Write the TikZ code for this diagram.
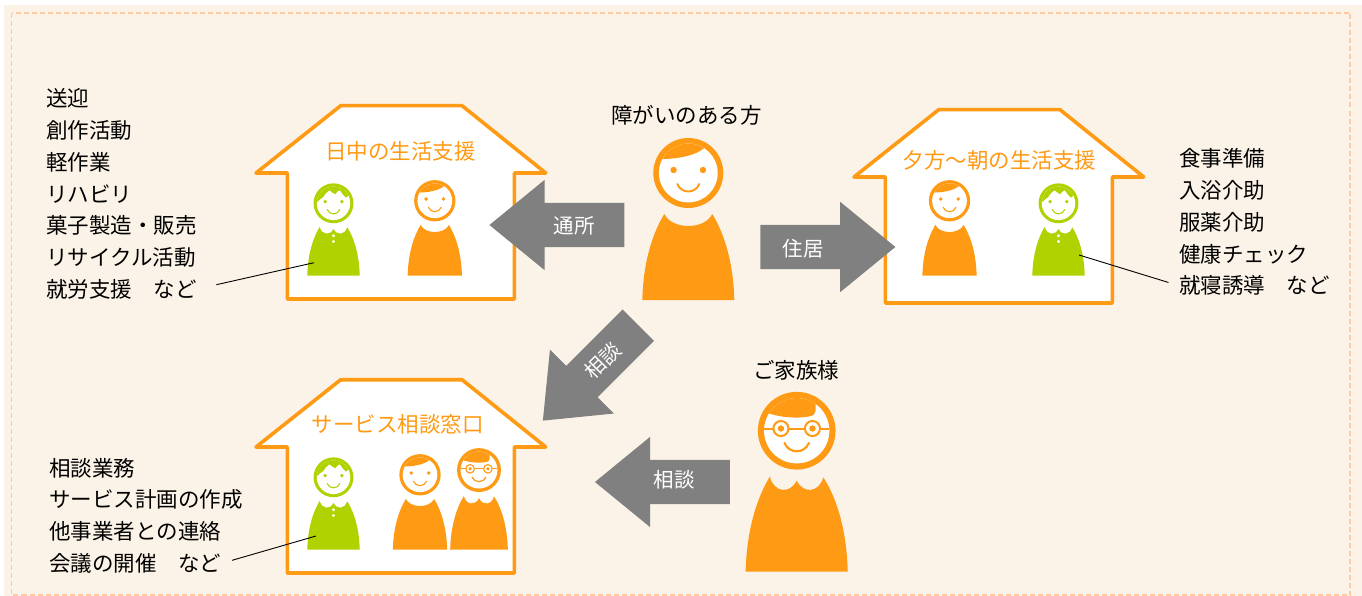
\documentclass[tikz,border=0pt]{standalone}
\usepackage{fontspec}
\setmainfont{Noto Sans CJK JP}
\usepackage{xcolor}
\usetikzlibrary{shapes.arrows}

\definecolor{paper}{HTML}{FBF3E7}
\definecolor{edging}{HTML}{FFC9A3}
\definecolor{carrot}{HTML}{FF9A14}
\definecolor{leaf}{HTML}{B0D200}
\definecolor{flow}{HTML}{808080}

% hair and collar of each kind of person
\newcommand{\hairwoman}[1]{\fill[#1] (-36,-141) .. controls (-10,-140) and (8,-145) .. (16,-152) -- (16,-170) -- (-36,-170) -- cycle;}
\newcommand{\hairglasses}[1]{\fill[#1] (-36,-146) -- (-23,-142) .. controls (-10,-138) and (8,-138) .. (15,-141) .. controls (17,-144) and (18,-147) .. (17,-150) -- (17,-170) -- (-36,-170) -- cycle;}
\newcommand{\hairspiky}[1]{\fill[#1] (-36,-128) -- (-28,-130) .. controls (-24,-134) and (-21,-136) .. (-18,-138) .. controls (-16,-142) and (-12,-147) .. (-7,-150) .. controls (-5,-147) and (0,-145) .. (3,-143) .. controls (5,-146) and (8,-149) .. (11,-150) .. controls (14,-146) and (18,-140) .. (22,-137) .. controls (24,-140) and (27,-143) .. (36,-140) -- (36,-170) -- (-36,-170) -- cycle;}
\newcommand{\collarplain}{(-24,-86) .. controls (-16,-70) and (16,-70) .. (24,-86)}
\newcommand{\collarfrill}{(-24,-85) .. controls (-20,-71) and (-6,-70) .. (0,-82) .. controls (6,-70) and (20,-71) .. (24,-85)}

% #1 x, #2 y of the foot, #3 scale, #4 colour, #5 hair, #6 collar
\newcommand{\person}[6]{
  \begin{scope}[shift={(#1,#2)},scale=#3]
    \fill[#4] (-46,0) .. controls (-45,-40) and (-35,-68) .. (-24,-86) -- \csname collar#6\endcsname{} .. controls (35,-68) and (45,-40) .. (46,0) -- cycle;
    \fill[#4] (0,-127) circle (35);
    \fill[white] (0,-127) circle (29.4);
    \begin{scope}
      \clip (0,-127) circle (29.4);
      \csname hair#5\endcsname{#4}
    \end{scope}
    \draw[#4, line width=#3*1.9pt, line cap=round] (-11,-116) .. controls (-7,-106) and (7,-106) .. (11,-116);
  \end{scope}
}
% eyes are apart from \person, the glasses cover them
\newcommand{\eyes}[4]{
  \begin{scope}[shift={(#1,#2)},scale=#3]
    \fill[#4] (-14.7,-130) circle (3.2) (14.7,-130) circle (3.2);
  \end{scope}
}
\newcommand{\glasses}[4]{
  \begin{scope}[shift={(#1,#2)},scale=#3]
    \draw[#4, line width=#3*1.8pt] (-29.4,-129) -- (29.4,-129);
    \draw[#4, line width=#3*1.8pt, fill=white] (-14.2,-129) circle (6.8) (14.2,-129) circle (6.8);
    \fill[#4] (-14.2,-129) circle (2.9) (14.2,-129) circle (2.9);
  \end{scope}
}
\newcommand{\buttons}[3]{
  \begin{scope}[shift={(#1,#2)},scale=#3]
    \fill[white] (0,-70) circle (2.9) (0,-60) circle (2.9);
  \end{scope}
}
\newcommand{\house}[2]{
  \draw[carrot, line width=3.6pt, line join=round, fill=white, shift={(#1,#2)}]
    (287.3,173) -- (256,173) -- (340.7,105.7) -- (462,105.7) -- (545.7,173) -- (514.3,173) -- (514.3,299) -- (287.3,299) -- cycle;
}

\begin{document}
\begin{tikzpicture}[
  x=1pt, y=-1pt,
  jptext/.style = {inner sep=0pt, font=\fontsize{21.5pt}{26pt}\selectfont},
  listtext/.style = {jptext, anchor=west},
  housetitle/.style = {jptext, text=carrot},
  flowarrow/.style = {single arrow, fill=flow, inner sep=0pt, text height=44pt, text depth=0pt, minimum height=135pt, minimum width=90pt, single arrow head extend=23pt, single arrow tip angle=78.6},
  flowlabel/.style = {inner sep=0pt, text=white, font=\fontsize{20.5pt}{24pt}\selectfont},
  leader/.style = {draw=black, line width=0.9pt}
]
\useasboundingbox (0,0) rectangle (1362,596);

\fill[paper] (4,5) rectangle (1362,596);
\draw[edging, line width=1.8pt, dash pattern=on 5pt off 3pt] (11.5,13) rectangle (1350,595);

\house{0}{0}
\house{598}{4}
\house{0}{274}

\node[housetitle] (daytitle) at (400.5,151) {日中の生活支援};
\node[housetitle] (hometitle) at (999.5,160) {夕方～朝の生活支援};
\node[housetitle] (desktitle) at (397.5,424) {サービス相談窓口};

% house of the day
\person{333.5}{275.7}{0.57}{leaf}{spiky}{frill}
\eyes{333.5}{275.7}{0.57}{leaf}
\buttons{333.5}{275.7}{0.57}
\person{434.8}{275.7}{0.59}{carrot}{woman}{plain}
\eyes{434.8}{275.7}{0.59}{carrot}

% house of the evening
\person{949.5}{275.7}{0.59}{carrot}{woman}{plain}
\eyes{949.5}{275.7}{0.59}{carrot}
\person{1058.5}{275.7}{0.57}{leaf}{spiky}{frill}
\eyes{1058.5}{275.7}{0.57}{leaf}
\buttons{1058.5}{275.7}{0.57}

% service desk
\person{333.5}{549.7}{0.57}{leaf}{spiky}{frill}
\eyes{333.5}{549.7}{0.57}{leaf}
\buttons{333.5}{549.7}{0.57}
\person{420}{549.7}{0.59}{carrot}{woman}{plain}
\eyes{420}{549.7}{0.59}{carrot}
\person{479}{549.7}{0.627}{carrot}{glasses}{frill}
\glasses{479}{549.7}{0.627}{carrot}

% the two big ones
\person{688.3}{300}{1}{carrot}{woman}{plain}
\eyes{688.3}{300}{1}{carrot}
\person{796.7}{571.7}{1.11}{carrot}{glasses}{frill}
\glasses{796.7}{571.7}{1.11}{carrot}

\node[jptext] (client) at (686.5,115) {障がいのある方};
\node[jptext] (family) at (796,370) {ご家族様};

\node[flowarrow, shape border rotate=180] (dayarrow) at (570.5,225) {};
\node[flowarrow] (homearrow) at (814.3,247) {};
\node[flowarrow, shape border rotate=180] (familyarrow) at (676,482) {};
\node[flowarrow, rotate=45, shape border rotate=180] (deskarrow) at (600.2,363.3) {};

\node[flowlabel] (daylabel) at (574,226) {通所};
\node[flowlabel] (homelabel) at (803,249) {住居};
\node[flowlabel] (familylabel) at (674,480) {相談};
\node[flowlabel, rotate=45] (desklabel) at (602.7,361) {相談};

\foreach \txt [count=\i] in {送迎,創作活動,軽作業,リハビリ,菓子製造・販売,リサイクル活動,就労支援　など}
  \node[listtext] (day\i) at (46,{98.3+(\i-1)*31.8}) {\txt};
\foreach \txt [count=\i] in {食事準備,入浴介助,服薬介助,健康チェック,就寝誘導　など}
  \node[listtext] (home\i) at (1179,{158.5+(\i-1)*31.8}) {\txt};
\foreach \txt [count=\i] in {相談業務,サービス計画の作成,他事業者との連絡,会議の開催　など}
  \node[listtext] (desk\i) at (49,{468+(\i-1)*31.8}) {\txt};

\coordinate (daypoint) at (314,262.7);
\coordinate (homepoint) at (1079,255);
\coordinate (deskpoint) at (316,536);

\draw[leader, shorten <=20pt] (day7.east) -- (daypoint);
\draw[leader, shorten <=11pt] (home5.west) -- (homepoint);
\draw[leader, shorten <=11pt] (desk4.east) -- (deskpoint);

\end{tikzpicture}
\end{document}
